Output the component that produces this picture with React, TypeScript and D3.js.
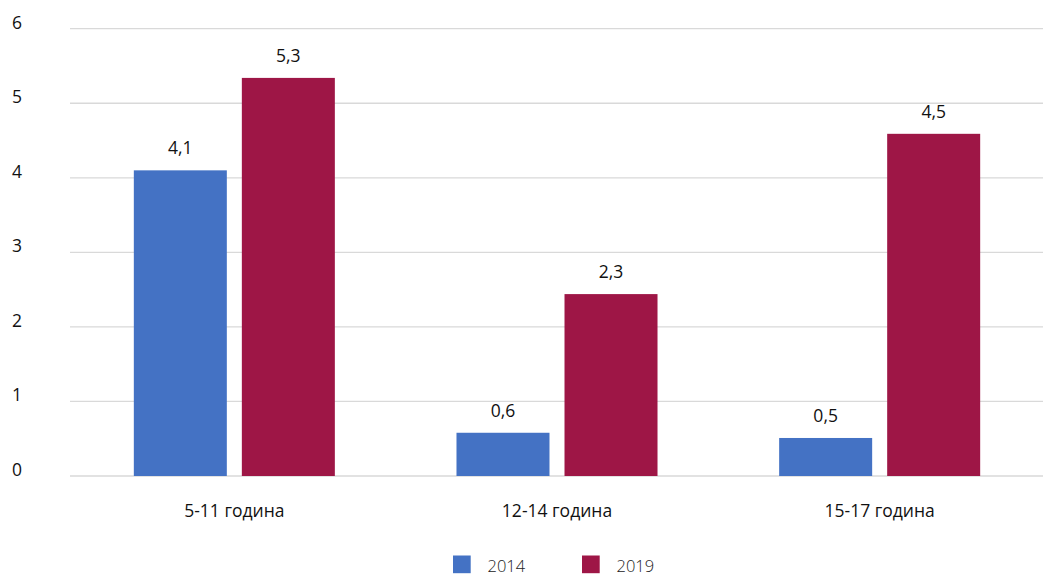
import React from "react";
import * as d3 from "d3";

const categories = ["5-11 година", "12-14 година", "15-17 година"];
const seriesNames = ["2014", "2019"];
const values2014 = [4.1, 0.58, 0.51];
const values2019 = [5.34, 2.44, 4.59];
const labels2014 = ["4,1", "0,6", "0,5"];
const labels2019 = ["5,3", "2,3", "4,5"];
const yTicks = [0, 1, 2, 3, 4, 5, 6];
const colors = ["#4472C4", "#9E1646"];

const W = 1043;
const H = 577;
const gridLeft = 70;
const gridRight = 1043;

export default function App() {
  const y = d3.scaleLinear().domain([0, 6]).range([476, 28.7]);
  const x0 = d3
    .scaleBand<string>()
    .domain(categories)
    .range([73, 1041])
    .paddingInner(0.377)
    .paddingOuter(0.1885);
  const x1 = d3
    .scaleBand<string>()
    .domain(seriesNames)
    .range([0, x0.bandwidth()])
    .paddingInner(0.139)
    .paddingOuter(0);

  const series = [
    { name: seriesNames[0], values: values2014, labels: labels2014, color: colors[0] },
    { name: seriesNames[1], values: values2019, labels: labels2019, color: colors[1] },
  ];

  const font = "'Open Sans', 'Segoe UI', sans-serif";

  return (
    <svg
      width={W}
      height={H}
      style={{ position: "absolute", left: 0, top: 0, background: "#fff" }}
      fontFamily={font}
    >
      {yTicks.map((t) => (
        <g key={t}>
          <line
            x1={gridLeft}
            x2={gridRight}
            y1={y(t)}
            y2={y(t)}
            stroke="#d9d9d9"
            strokeWidth={1.3}
          />
          <text x={17} y={y(t)} textAnchor="middle" fontSize={17.5} fill="#111">
            {t}
          </text>
        </g>
      ))}
      {categories.map((c, i) => (
        <g key={c} transform={`translate(${x0(c)},0)`}>
          {series.map((s) => {
            const bx = x1(s.name)!;
            const by = y(s.values[i]);
            return (
              <g key={s.name}>
                <rect
                  x={bx}
                  y={by}
                  width={x1.bandwidth()}
                  height={y(0) - by}
                  fill={s.color}
                />
                <text
                  x={bx + x1.bandwidth() / 2}
                  y={by - 16}
                  textAnchor="middle"
                  fontSize={17.5}
                  fill="#111"
                >
                  {s.labels[i]}
                </text>
              </g>
            );
          })}
          <text
            x={x0.bandwidth() / 2}
            y={516.5}
            textAnchor="middle"
            fontSize={17.5}
            fill="#111"
          >
            {c}
          </text>
        </g>
      ))}
      {series.map((s, i) => {
        const lx = 453 + i * 129;
        return (
          <g key={s.name} transform={`translate(${lx},555.5)`}>
            <rect x={0} y={0} width={17.7} height={17.7} fill={s.color} />
            <text
              x={34.5}
              y={16.5}
              fontSize={16.5}
              fontWeight={300}
              fill="#222"
              fontFamily="'Open Sans', sans-serif"
            >
              {s.name}
            </text>
          </g>
        );
      })}
    </svg>
  );
}
